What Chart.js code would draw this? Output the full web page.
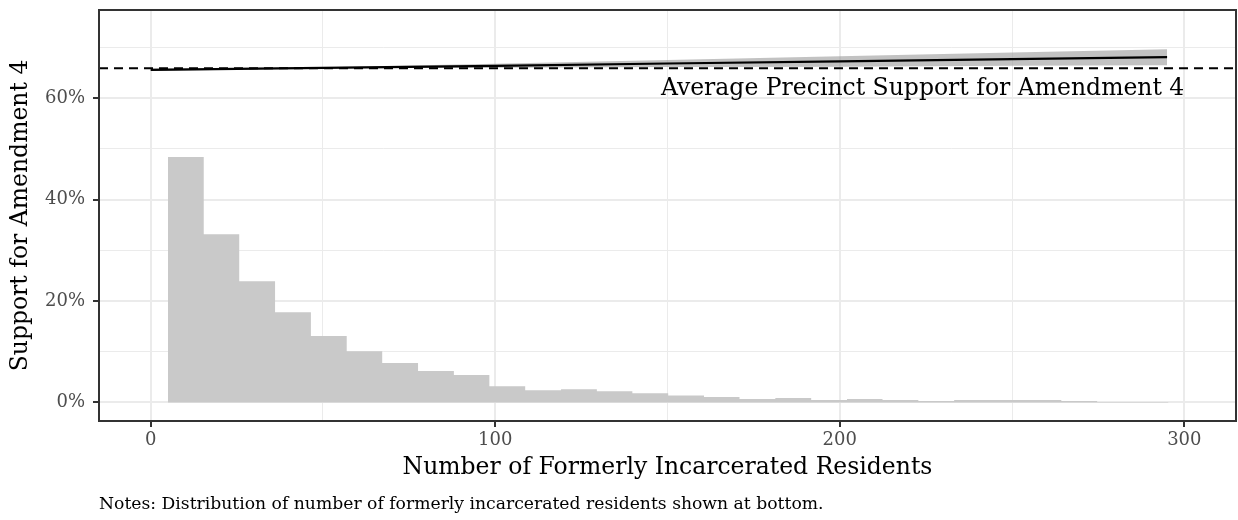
<!DOCTYPE html>
<html>
<head>
<meta charset="utf-8">
<script src="https://cdn.jsdelivr.net/npm/chart.js@4"></script>
<style>
  html, body { margin: 0; padding: 0; background: #fff; }
  canvas { display: block; }
</style>
</head>
<body>
<canvas id="chart" width="1238" height="520"></canvas>
<script>
// histogram of formerly incarcerated residents per precinct (share of precincts, %)
const binEdges = [5.0, 15.4, 25.7, 36.1, 46.5, 56.9, 67.2, 77.6, 88.0, 98.3, 108.7, 119.1, 129.5, 139.8, 150.2,
  160.6, 170.9, 181.3, 191.7, 202.1, 212.4, 222.8, 233.2, 243.5, 253.9, 264.3, 274.7, 285.0, 295.4];
const binShare = [48.4, 33.2, 23.9, 17.8, 13.1, 10.1, 7.8, 6.2, 5.4, 3.2, 2.4, 2.6, 2.2, 1.8,
  1.4, 1.1, 0.7, 0.9, 0.5, 0.7, 0.5, 0.3, 0.5, 0.5, 0.5, 0.3, 0.1, 0.1];

// linear fit of support with its confidence band
const fitX = [0, 50, 100, 150, 200, 250, 295];
const fitY = [65.6, 66.0, 66.4, 66.85, 67.25, 67.7, 68.1];
const fitHi = [65.85, 66.1, 66.8, 67.55, 68.3, 69.0, 69.65];
const fitLo = [65.35, 65.9, 66.0, 66.15, 66.2, 66.4, 66.5];

const avgSupport = 65.9;
const xTicks = [0, 100, 200, 300];
const yTicks = [0, 20, 40, 60];

const annotText = 'Average Precinct Support for Amendment 4';
const annotX = 300, annotY = 60.65;
const notesText = 'Notes: Distribution of number of formerly incarcerated residents shown at bottom.';

const X_MIN = -15, X_MAX = 315;
const Y_MIN = -3.65, Y_MAX = 77.4;

const FONT = '"DejaVu Serif", serif';

const histPoints = binEdges.map((x, i) => ({ x: x, y: binShare[Math.min(i, binShare.length - 1)] }));
const toPts = ys => fitX.map((x, i) => ({ x: x, y: ys[i] }));

const extras = {
  id: 'extras',
  afterDatasetsDraw(chart) {
    const { ctx, chartArea: a, scales: { x, y } } = chart;
    ctx.save();
    ctx.fillStyle = '#000';
    ctx.font = '23.5px ' + FONT;
    ctx.textAlign = 'right';
    ctx.textBaseline = 'alphabetic';
    ctx.fillText(annotText, x.getPixelForValue(annotX), y.getPixelForValue(annotY));

    ctx.strokeStyle = '#333';
    ctx.lineWidth = 2;
    ctx.strokeRect(a.left, a.top, a.right - a.left, a.bottom - a.top);

    ctx.font = '17.2px ' + FONT;
    ctx.textAlign = 'left';
    ctx.textBaseline = 'middle';
    ctx.fillText(notesText, a.left, 505);
    ctx.restore();
  }
};

// keep only round tick values, and snap away float noise
const keepTicks = (step) => (scale) => {
  scale.ticks = scale.ticks
    .map(t => ({ value: Math.round(t.value * 1000) / 1000 }))
    .filter(t => Math.abs(t.value / step - Math.round(t.value / step)) < 1e-6);
};

new Chart(document.getElementById('chart'), {
  type: 'line',
  data: {
    datasets: [{
      label: 'average',
      data: [{ x: X_MIN, y: avgSupport }, { x: X_MAX, y: avgSupport }],
      borderColor: '#000',
      borderWidth: 2,
      borderDash: [9, 6],
      pointRadius: 0,
      fill: false,
      order: 0
    }, {
      label: 'fit',
      data: toPts(fitY),
      borderColor: '#000',
      borderWidth: 2.2,
      pointRadius: 0,
      fill: false,
      order: 1
    }, {
      label: 'upper',
      data: toPts(fitHi),
      borderWidth: 0,
      borderColor: 'rgba(0,0,0,0)',
      backgroundColor: 'rgba(153,153,153,0.6)',
      pointRadius: 0,
      fill: '+1',
      order: 2
    }, {
      label: 'lower',
      data: toPts(fitLo),
      borderWidth: 0,
      borderColor: 'rgba(0,0,0,0)',
      pointRadius: 0,
      fill: false,
      order: 3
    }, {
      label: 'histogram',
      data: histPoints,
      stepped: 'before',
      borderWidth: 0,
      borderColor: 'rgba(0,0,0,0)',
      backgroundColor: '#c9c9c9',
      pointRadius: 0,
      fill: 'origin',
      order: 4
    }]
  },
  options: {
    responsive: false,
    animation: false,
    devicePixelRatio: 1,
    layout: { padding: { top: 10, right: 2, bottom: 0, left: 0 } },
    plugins: {
      legend: { display: false },
      tooltip: { enabled: false }
    },
    scales: {
      x: {
        type: 'linear',
        min: X_MIN,
        max: X_MAX,
        afterFit: (scale) => {
          scale.height = 99;
          scale.paddingLeft = 0;
          scale.paddingRight = 0;
        },
        afterBuildTicks: keepTicks(50),
        ticks: {
          stepSize: 50,
          includeBounds: false,
          padding: 3,
          color: '#4d4d4d',
          font: { family: FONT, size: 18 },
          maxRotation: 0,
          callback: v => xTicks.includes(v) ? String(v) : ''
        },
        grid: {
          color: '#ebebeb',
          lineWidth: c => xTicks.includes(c.tick.value) ? 2 : 1,
          tickColor: c => xTicks.includes(c.tick.value) ? '#333' : 'rgba(0,0,0,0)',
          tickWidth: 2,
          tickLength: 6
        },
        border: { display: false },
        title: {
          display: true,
          text: 'Number of Formerly Incarcerated Residents',
          color: '#000',
          font: { family: FONT, size: 23.5 },
          padding: { top: 0, bottom: 38 }
        }
      },
      y: {
        type: 'linear',
        min: Y_MIN,
        max: Y_MAX,
        afterFit: (scale) => {
          scale.width = 99;
          scale.paddingTop = 0;
          scale.paddingBottom = 0;
        },
        afterBuildTicks: keepTicks(10),
        ticks: {
          stepSize: 10,
          includeBounds: false,
          padding: 8,
          color: '#4d4d4d',
          font: { family: FONT, size: 18 },
          callback: v => yTicks.includes(v) ? v + '%' : ''
        },
        grid: {
          color: '#ebebeb',
          lineWidth: c => yTicks.includes(c.tick.value) ? 2 : 1,
          tickColor: c => yTicks.includes(c.tick.value) ? '#333' : 'rgba(0,0,0,0)',
          tickWidth: 2,
          tickLength: 6
        },
        border: { display: false },
        title: {
          display: true,
          text: 'Support for Amendment 4',
          color: '#000',
          font: { family: FONT, size: 23.5 },
          padding: { top: 7, bottom: 0 }
        }
      }
    }
  },
  plugins: [extras]
});
</script>
</body>
</html>
